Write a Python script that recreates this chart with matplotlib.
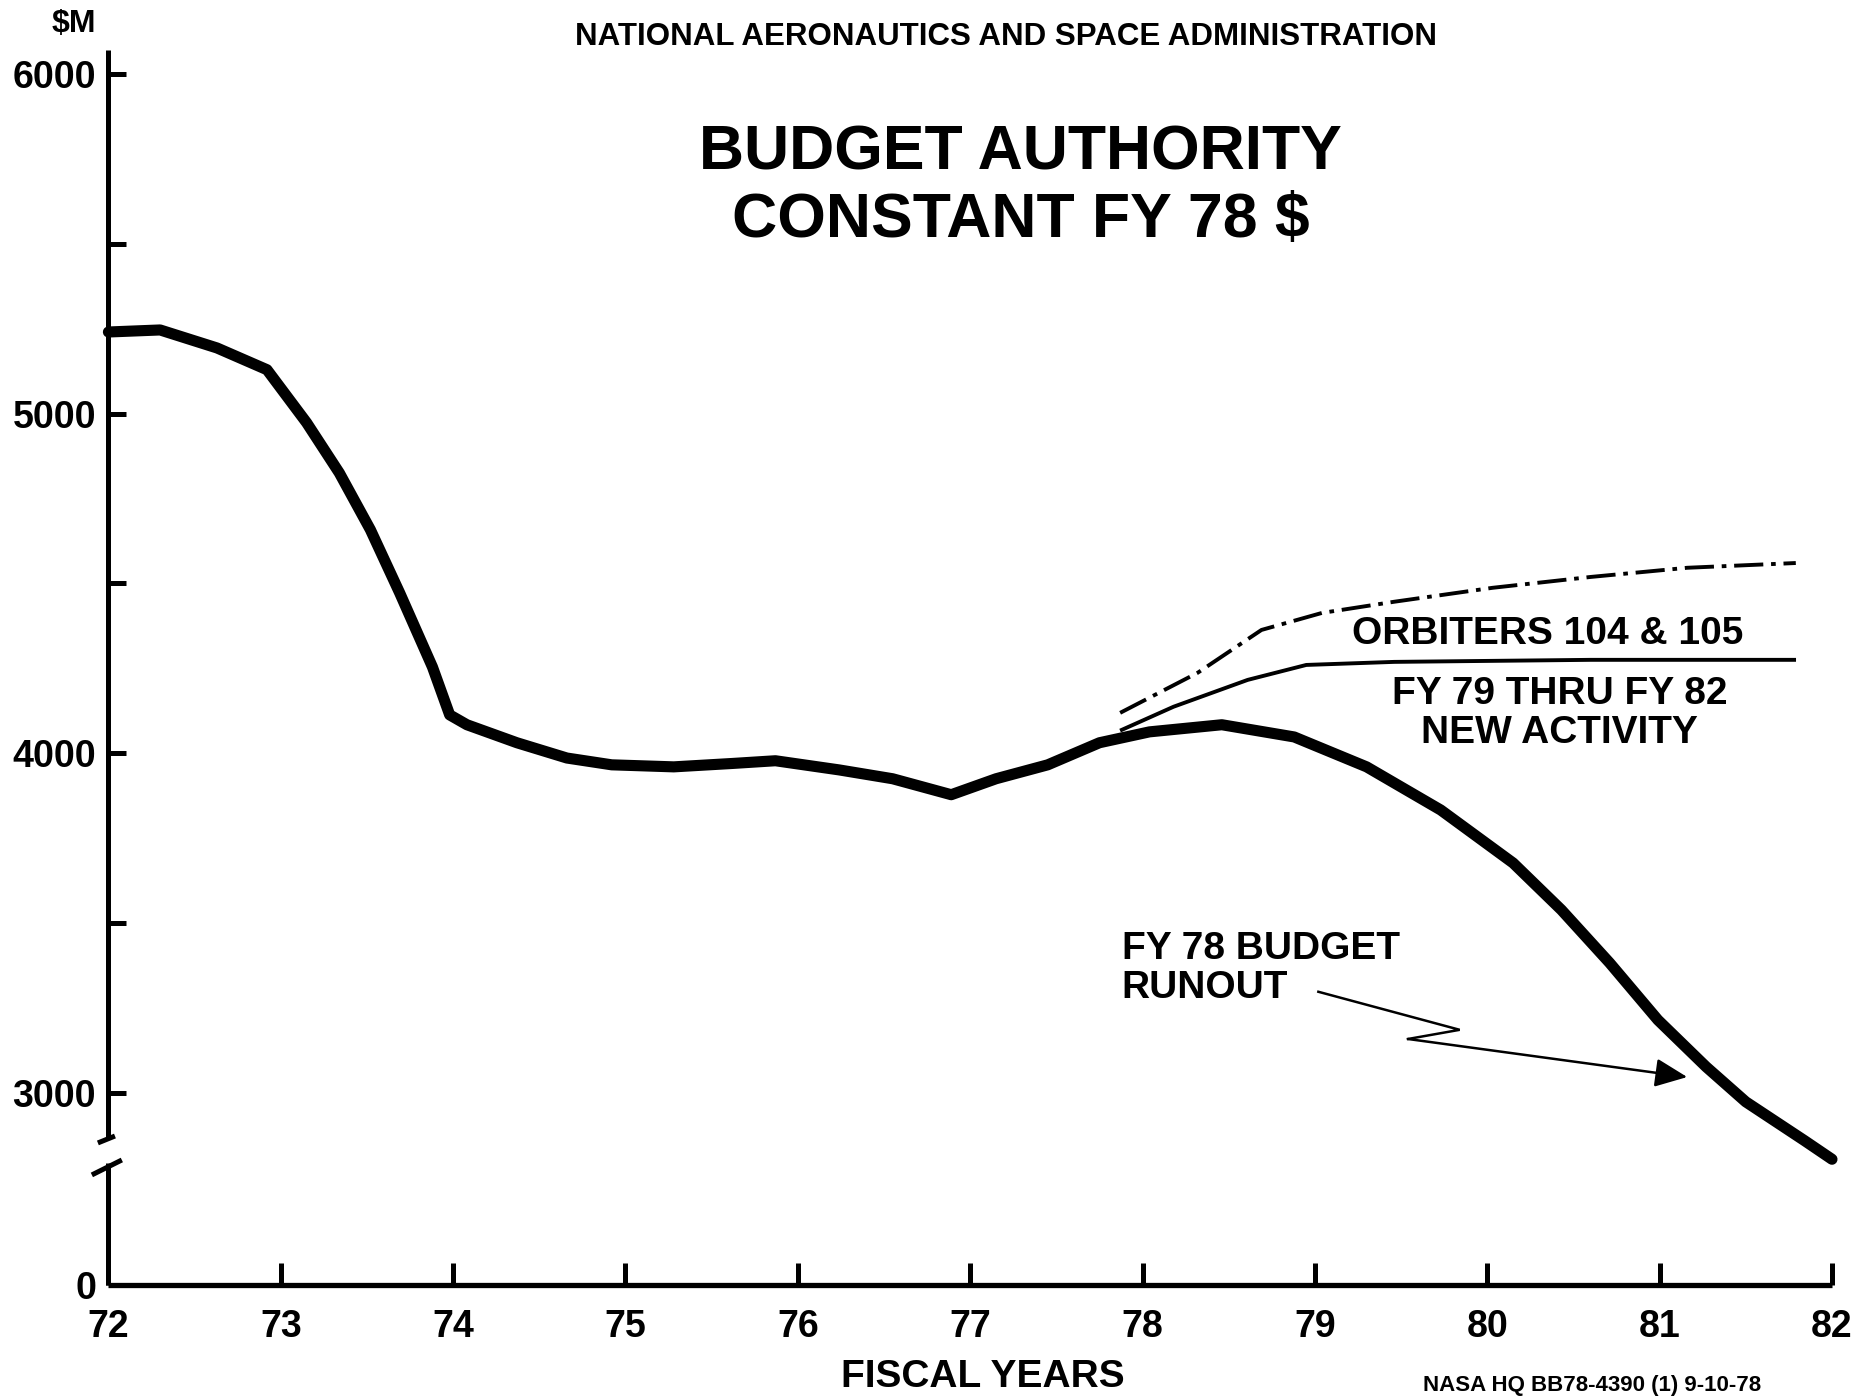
import matplotlib
matplotlib.use("Agg")
import matplotlib.pyplot as plt
import numpy as np

plt.rcParams['font.family'] = ['Liberation Sans', 'DejaVu Sans']
plt.rcParams['font.weight'] = 'bold'

# --- data ($M, constant FY 78 dollars) ---
runout_years = [72.0, 72.30, 72.63, 72.92, 73.15, 73.34, 73.52, 73.69, 73.88, 73.98,
                74.08, 74.37, 74.66, 74.92, 75.28, 75.62, 75.87, 76.24, 76.55, 76.89,
                77.15, 77.45, 77.75, 78.04, 78.46, 78.88, 79.30, 79.73, 80.15, 80.43,
                80.71, 80.99, 81.27, 81.50, 81.84, 82.0]
runout_values = [5240, 5246, 5193, 5129, 4973, 4825, 4658, 4472, 4254, 4113,
                 4084, 4031, 3986, 3966, 3960, 3970, 3978, 3951, 3925, 3878,
                 3925, 3966, 4031, 4063, 4084, 4048, 3960, 3833, 3677, 3539,
                 3383, 3215, 3077, 2974, 2860, 2805]

activity_years = [77.88, 78.18, 78.61, 78.95, 79.46, 80.60, 81.78]
activity_values = [4069, 4137, 4216, 4260, 4269, 4275, 4275]

orbiter_years = [77.87, 78.32, 78.69, 79.04, 79.46, 80.03, 80.60, 81.16, 81.79]
orbiter_values = [4119, 4237, 4363, 4413, 4446, 4487, 4519, 4546, 4560]

arrow_years = [79.02, 79.84, 79.54, 81.16]
arrow_values = [3298, 3186, 3159, 3047]

year_ticks = list(range(72, 83))
value_ticks = [0, 3000, 4000, 5000, 6000]
value_minor = [3500, 4500, 5500]


# broken y axis: 0..2700 squeezed into a short stub below the break
def fwd(v):
    v = np.asarray(v, dtype=float)
    return np.where(v >= 2700, v, 2435 + v * (2700 - 2435) / 2700)


def inv(s):
    s = np.asarray(s, dtype=float)
    return np.where(s >= 2700, s, (s - 2435) * 2700 / (2700 - 2435))


fig = plt.figure(figsize=(18.69, 13.97), dpi=100)
ax = fig.add_axes([0.058, 0.0802, 0.9222, 0.884])
ax.set_yscale('function', functions=(fwd, inv))
ax.set_xlim(72, 82)
ax.set_ylim(0, 6070)

ax.plot(runout_years, runout_values, color='black', lw=8,
        solid_joinstyle='round', solid_capstyle='round', clip_on=False)
ax.plot(activity_years, activity_values, color='black', lw=2.8,
        solid_joinstyle='round')
ax.plot(orbiter_years, orbiter_values, color='black', lw=2.8,
        linestyle=(0, (7.5, 2, 1.2, 2)))

# zigzag pointer to the runout curve
ax.plot(arrow_years[:3], arrow_values[:3], color='black', lw=1.8,
        solid_joinstyle='miter')
ax.annotate('', xy=(arrow_years[3], arrow_values[3]),
            xytext=(arrow_years[2], arrow_values[2]),
            arrowprops=dict(arrowstyle='-|>,head_length=0.9,head_width=0.4',
                            color='black', lw=1.8, shrinkA=0, shrinkB=0,
                            mutation_scale=22))

# spines
for s in ['top', 'right', 'left']:
    ax.spines[s].set_visible(False)
ax.spines['bottom'].set_linewidth(3.8)
ax.spines['bottom'].set_capstyle('butt')

axis_kw = dict(color='black', lw=3.6, transform=ax.transAxes, clip_on=False,
               solid_capstyle='butt')
ax.plot([0, 0], [0.1198, 1.0], **axis_kw)
ax.plot([0, 0], [0, 0.0988], **axis_kw)
ax.plot([-0.0061, 0.0038], [0.115, 0.1206], **axis_kw)
ax.plot([-0.0096, 0.0078], [0.0891, 0.1012], **axis_kw)

# ticks
ax.set_xticks(year_ticks)
ax.set_xticklabels([str(y) for y in year_ticks])
ax.set_yticks(value_ticks)
ax.set_yticklabels([str(v) for v in value_ticks])
ax.set_yticks(value_minor, minor=True)
ax.tick_params(axis='x', direction='in', length=16, width=3.6, pad=17,
               labelsize=27)
ax.tick_params(axis='y', which='both', direction='in', length=13, width=3.6,
               pad=9, labelsize=27)
ax.yaxis.get_major_ticks()[0].tick1line.set_visible(False)
for lab in ax.get_xticklabels() + ax.get_yticklabels():
    lab.set_fontweight('bold')

# curve labels
ax.text(80.35, 4352, 'ORBITERS 104 & 105', ha='center', va='center',
        fontsize=28, fontweight='bold')
ax.text(80.42, 4116, 'FY 79 THRU FY 82\nNEW ACTIVITY', ha='center',
        va='center', fontsize=28, fontweight='bold', linespacing=1.1)
ax.text(77.88, 3366, 'FY 78 BUDGET\nRUNOUT', ha='left', va='center',
        fontsize=28, fontweight='bold', linespacing=1.1)

# headers
fig.text(0.0396, 0.983, '$M', ha='center', va='center', fontsize=23,
         fontweight='bold', parse_math=False)
fig.text(0.538, 0.9735, 'NATIONAL AERONAUTICS AND SPACE ADMINISTRATION',
         ha='center', va='center', fontsize=22.5, fontweight='bold')
fig.text(0.546, 0.8905, 'BUDGET AUTHORITY', ha='center', va='center',
         fontsize=45, fontweight='bold')
fig.text(0.546, 0.8425, 'CONSTANT FY 78 $', ha='center', va='center',
         fontsize=45, fontweight='bold', parse_math=False)
fig.text(0.526, 0.014, 'FISCAL YEARS', ha='center', va='center',
         fontsize=28, fontweight='bold')
fig.text(0.7614, 0.001, 'NASA HQ BB78-4390 (1) 9-10-78', ha='left',
         va='bottom', fontsize=16, fontweight='bold')

fig.savefig('out.png', dpi=100)
